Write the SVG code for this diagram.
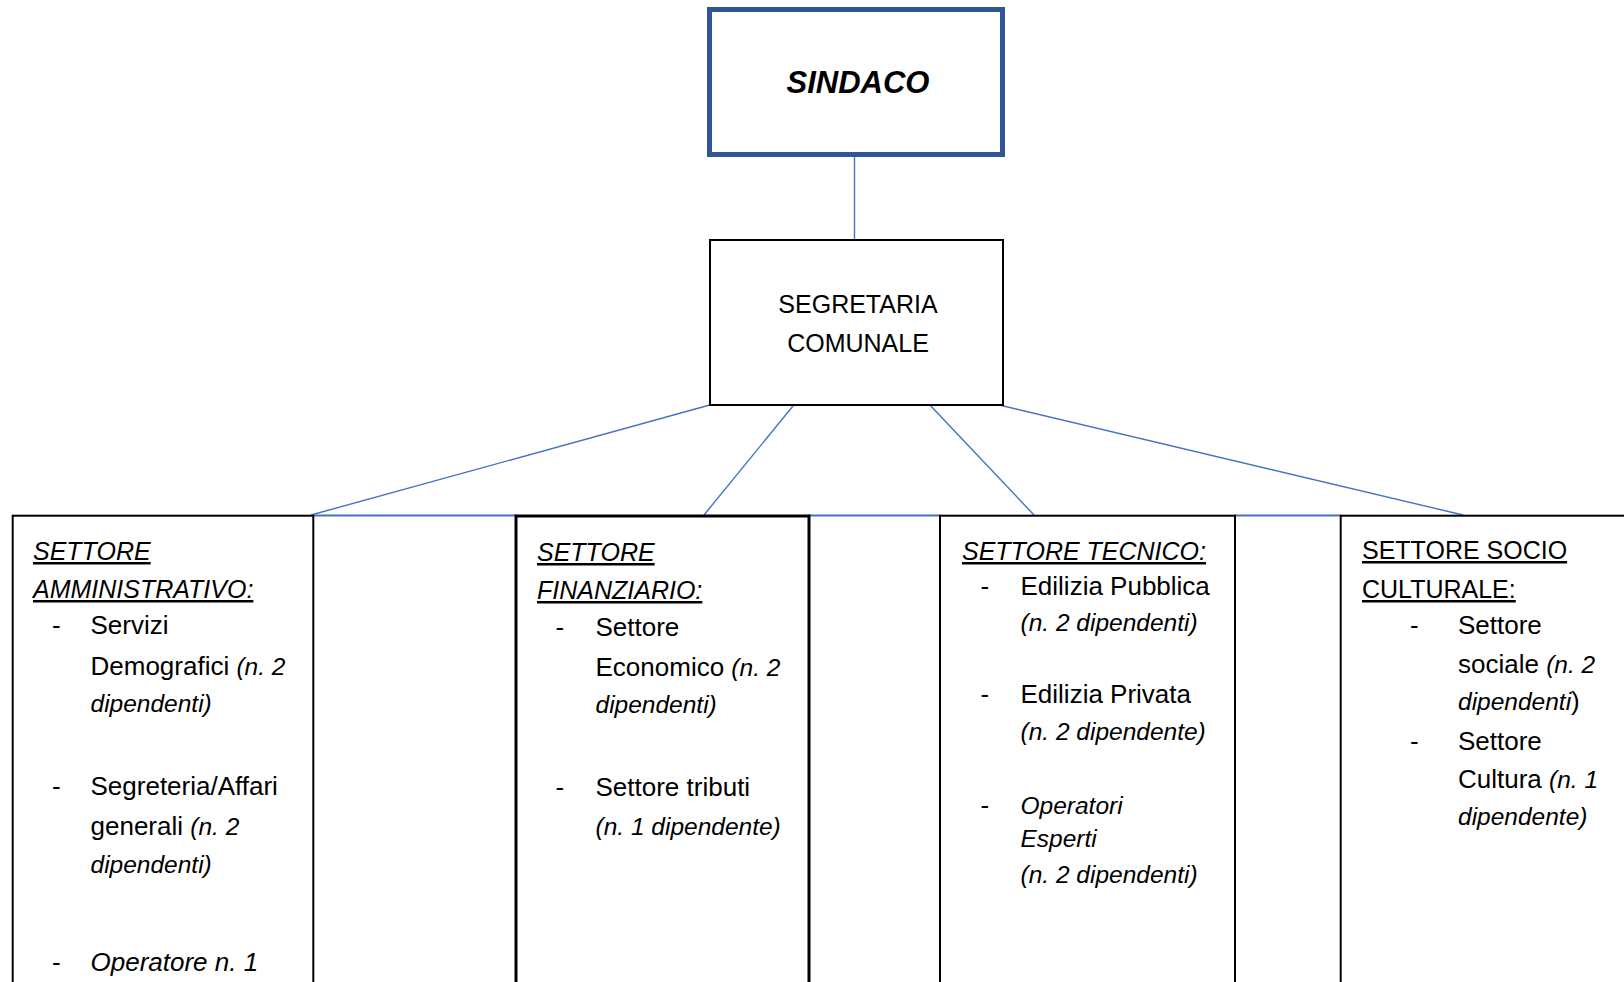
<svg xmlns="http://www.w3.org/2000/svg" width="1624" height="982" viewBox="0 0 1624 982">
<style>
text{font-family:"Liberation Sans",Arial,sans-serif;fill:#000}
.b{font-size:26px}
.h{font-size:25px;text-decoration:underline}
.i{font-style:italic}
.n{font-style:italic;font-size:24.5px}
.box{fill:#fff;stroke:#000;stroke-width:2}
.con{stroke:#4472C4;stroke-width:1.4;fill:none}
.bar{stroke:#4472C4;stroke-width:2.2;fill:none}
</style>
<rect width="1624" height="982" fill="#fff"/>
<g id="connectors">
<line class="con" x1="854.5" y1="157" x2="854.5" y2="240"/>
<line class="con" x1="717" y1="403" x2="311" y2="515"/>
<line class="con" x1="793" y1="406" x2="704" y2="515"/>
<line class="con" x1="928" y1="403" x2="1034" y2="515"/>
<line class="con" x1="991" y1="403" x2="1463" y2="515"/>
<line class="bar" x1="311" y1="515.5" x2="517" y2="515.5"/>
<line class="bar" x1="808" y1="515.5" x2="941" y2="515.5"/>
<line class="bar" x1="1234" y1="515.5" x2="1341" y2="515.5"/>
</g>
<g id="sindaco">
<rect x="709.5" y="9.5" width="293" height="145" fill="#fff" stroke="#2F5597" stroke-width="5"/>
<text x="858" y="93" text-anchor="middle" font-size="31" font-weight="bold" font-style="italic">SINDACO</text>
</g>
<g id="segretaria">
<rect class="box" x="710" y="240" width="293" height="165"/>
<text x="858" y="313" text-anchor="middle" font-size="25">SEGRETARIA</text>
<text x="858" y="352" text-anchor="middle" font-size="25">COMUNALE</text>
</g>
<g id="settore-amministrativo">
<rect class="box" x="12.7" y="515.7" width="300.6" height="520"/>
<text class="h i" x="33" y="560">SETTORE</text>
<text class="h i" x="33" y="598">AMMINISTRATIVO:</text>
<text class="b" x="52" y="634">-</text>
<text class="b" x="90.5" y="634">Servizi</text>
<text class="b" x="90.5" y="675">Demografici <tspan class="n">(n. 2</tspan></text>
<text class="n" x="90.5" y="712">dipendenti)</text>
<text class="b" x="52" y="795">-</text>
<text class="b" x="90.5" y="795">Segreteria/Affari</text>
<text class="b" x="90.5" y="835">generali <tspan class="n">(n. 2</tspan></text>
<text class="n" x="90.5" y="872.5">dipendenti)</text>
<text class="b" x="52" y="970.5">-</text>
<text class="b i" x="90.5" y="970.5">Operatore n. 1</text>
</g>
<g id="settore-finanziario">
<rect x="516" y="516" width="293" height="520" fill="#fff" stroke="#000" stroke-width="3"/>
<text class="h i" x="537" y="561">SETTORE</text>
<text class="h i" x="537" y="599">FINANZIARIO:</text>
<text class="b" x="555.5" y="636">-</text>
<text class="b" x="595.5" y="636">Settore</text>
<text class="b" x="595.5" y="676">Economico <tspan class="n">(n. 2</tspan></text>
<text class="n" x="595.5" y="713">dipendenti)</text>
<text class="b" x="555.5" y="796">-</text>
<text class="b" x="595.5" y="796">Settore tributi</text>
<text class="n" x="595.5" y="835">(n. 1 dipendente)</text>
</g>
<g id="settore-tecnico">
<rect class="box" x="940" y="515.7" width="295" height="520"/>
<text class="h i" x="962" y="560">SETTORE TECNICO:</text>
<text class="b" x="980.5" y="595">-</text>
<text class="b" x="1020.5" y="595">Edilizia Pubblica</text>
<text class="n" x="1020.5" y="631">(n. 2 dipendenti)</text>
<text class="b" x="980.5" y="703">-</text>
<text class="b" x="1020.5" y="703">Edilizia Privata</text>
<text class="n" x="1020.5" y="740">(n. 2 dipendente)</text>
<text class="b" x="980.5" y="814">-</text>
<text class="n" x="1020.5" y="814" font-size="25">Operatori</text>
<text class="n" x="1020.5" y="847" font-size="25">Esperti</text>
<text class="n" x="1020.5" y="883">(n. 2 dipendenti)</text>
</g>
<g id="settore-socio-culturale">
<rect class="box" x="1340.7" y="515.7" width="400" height="520"/>
<text class="h" x="1362" y="559">SETTORE SOCIO</text>
<text class="h" x="1362" y="598">CULTURALE:</text>
<text class="b" x="1410" y="634">-</text>
<text class="b" x="1458" y="634">Settore</text>
<text class="b" x="1458" y="672.5">sociale <tspan class="n">(n. 2</tspan></text>
<text class="b" x="1458" y="710"><tspan class="n">dipendenti</tspan>)</text>
<text class="b" x="1410" y="750">-</text>
<text class="b" x="1458" y="750">Settore</text>
<text class="b" x="1458" y="788">Cultura <tspan class="n">(n. 1</tspan></text>
<text class="n" x="1458" y="825">dipendente)</text>
</g>
</svg>
